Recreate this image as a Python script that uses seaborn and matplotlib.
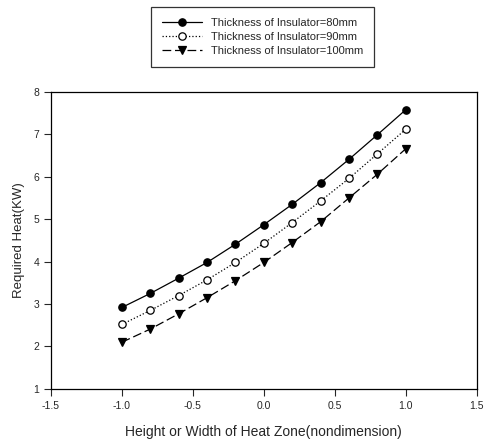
import numpy as np
import pandas as pd
import matplotlib
matplotlib.use("Agg")
import matplotlib.pyplot as plt
import seaborn as sns

# data
x_vals = [-1.0, -0.8, -0.6, -0.4, -0.2, 0.0, 0.2, 0.4, 0.6, 0.8, 1.0]
heat_80 = [2.92, 3.25, 3.61, 3.98, 4.41, 4.87, 5.35, 5.86, 6.41, 6.99, 7.58]
heat_90 = [2.52, 2.85, 3.20, 3.57, 3.98, 4.43, 4.92, 5.43, 5.96, 6.54, 7.12]
heat_100 = [2.10, 2.41, 2.77, 3.15, 3.55, 3.98, 4.45, 4.94, 5.50, 6.06, 6.66]
labels = ["Thickness of Insulator=80mm",
          "Thickness of Insulator=90mm",
          "Thickness of Insulator=100mm"]

df = pd.DataFrame({
    "x": x_vals * 3,
    "heat": heat_80 + heat_90 + heat_100,
    "series": [labels[0]] * 11 + [labels[1]] * 11 + [labels[2]] * 11,
})

sns.set_style("ticks")
plt.rcParams["font.family"] = ["Liberation Sans", "DejaVu Sans"]

fig = plt.figure(figsize=(4.85, 4.46), dpi=100)
ax = fig.add_axes([0.105, 0.128, 0.878, 0.666])

styles = [
    dict(marker="o", linestyle="-", mfc="black"),
    dict(marker="o", linestyle=":", mfc="white"),
    dict(marker="v", linestyle=(0, (7, 3)), mfc="black"),
]
for lab, st in zip(labels, styles):
    sub = df[df["series"] == lab]
    sns.lineplot(data=sub, x="x", y="heat", ax=ax, color="black",
                 linewidth=0.9, marker=st["marker"], linestyle=st["linestyle"],
                 markersize=5.3, markerfacecolor=st["mfc"],
                 markeredgecolor="black", markeredgewidth=0.9, label=lab,
                 legend=False)

ax.set_xlim(-1.5, 1.5)
ax.set_ylim(1, 8)
ax.set_xticks(np.arange(-1.5, 1.51, 0.5))
ax.set_xticklabels([f"{v:.1f}" for v in np.arange(-1.5, 1.51, 0.5)])
ax.set_yticks(range(1, 9))
ax.tick_params(direction="out", length=5, width=0.8, labelsize=7.5)
for s in ax.spines.values():
    s.set_linewidth(0.9)
    s.set_color("black")
ax.set_xlabel("Height or Width of Heat Zone(nondimension)", fontsize=10, labelpad=10)
ax.set_ylabel("Required Heat(KW)", fontsize=9.5, labelpad=6)

handles, hl = ax.get_legend_handles_labels()
leg = fig.legend(handles, hl, loc="lower left",
                 bbox_to_anchor=(151 / 485, 1 - 67 / 446),
                 bbox_transform=fig.transFigure, fontsize=8, frameon=True,
                 fancybox=False, edgecolor="black", handlelength=3.6,
                 borderpad=1.0, borderaxespad=0, labelspacing=0.34,
                 handletextpad=0.8)
leg.get_frame().set_linewidth(0.9)

fig.savefig("out.png", dpi=100)
